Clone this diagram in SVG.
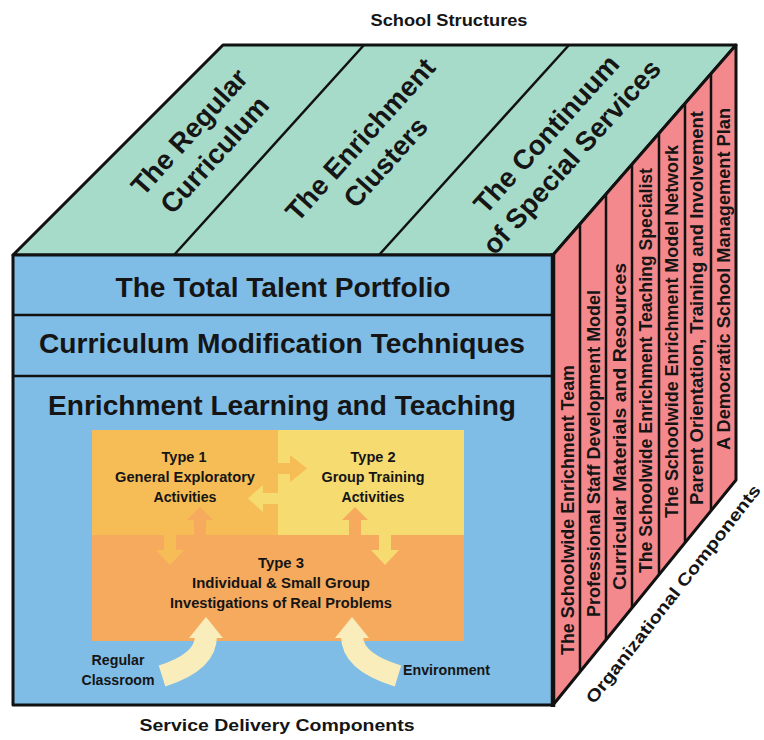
<svg xmlns="http://www.w3.org/2000/svg" width="764" height="740" viewBox="0 0 764 740">
<style>
text{font-family:"Liberation Sans",Arial,sans-serif;font-weight:bold;fill:#151515}
.edge{stroke:#111;stroke-width:3;stroke-linejoin:round;fill:none}
.div{stroke:#111;stroke-width:2.5}
.top{fill:#A6DBCA}
.front{fill:#7FBCE6}
.pink{fill:#F4898D}
.t1{fill:#F6BD56}
.t2{fill:#F5DB70}
.t3{fill:#F6AA5E}
.cream{fill:#F8EDBB}
.big{font-size:27.5px}
.row{font-size:27px}
.strip{font-size:18.5px}
.small{font-size:14.5px}
.lbl{font-size:17px}
</style>
<rect width="764" height="740" fill="#fff"/>
<text id="school-structures" class="lbl" x="449" y="26" text-anchor="middle" textLength="157" lengthAdjust="spacingAndGlyphs">School Structures</text>

<!-- top face -->
<g id="top-face">
<polygon class="top" points="13,255 223,45 736,45 553,255"/>
<line class="div" x1="174" y1="255" x2="364" y2="45"/>
<line class="div" x1="379" y1="255" x2="569" y2="45"/>
<polygon class="edge" points="13,255 223,45 736,45 553,255"/>
</g>
<g id="regular-curriculum" transform="translate(201.5,143) rotate(-48)">
<text class="big" text-anchor="middle" y="-7">The Regular</text>
<text class="big" text-anchor="middle" y="27">Curriculum</text>
</g>
<g id="enrichment-clusters" transform="translate(372.5,150.5) rotate(-48)">
<text class="big" text-anchor="middle" y="-7">The Enrichment</text>
<text class="big" text-anchor="middle" y="27">Clusters</text>
</g>
<g id="continuum" transform="translate(558.5,145) rotate(-48)">
<text class="big" text-anchor="middle" y="-7">The Continuum</text>
<text class="big" text-anchor="middle" y="27">of Special Services</text>
</g>

<!-- right face -->
<g id="right-face">
<polygon class="pink" points="553,255 736,45 736,480 553,705"/>
<line class="div" x1="580" y1="224" x2="580" y2="671.8"/>
<line class="div" x1="606" y1="194.2" x2="606" y2="639.8"/>
<line class="div" x1="632" y1="164.3" x2="632" y2="607.9"/>
<line class="div" x1="659" y1="133.4" x2="659" y2="574.7"/>
<line class="div" x1="685" y1="103.5" x2="685" y2="542.7"/>
<line class="div" x1="711" y1="73.7" x2="711" y2="510.7"/>
<polygon class="edge" points="553,255 736,45 736,480 553,705"/>
</g>
<g id="org-1"><text class="strip" transform="translate(573.5,510) rotate(-90)" text-anchor="middle" textLength="290" lengthAdjust="spacingAndGlyphs">The Schoolwide Enrichment Team</text></g>
<g id="org-2"><text class="strip" transform="translate(600,453.5) rotate(-90)" text-anchor="middle" textLength="327" lengthAdjust="spacingAndGlyphs">Professional Staff Development Model</text></g>
<g id="org-3"><text class="strip" transform="translate(625.5,426.5) rotate(-90)" text-anchor="middle" textLength="327" lengthAdjust="spacingAndGlyphs">Curricular Materials and Resources</text></g>
<g id="org-4"><text class="strip" transform="translate(652,370.5) rotate(-90)" text-anchor="middle" textLength="405" lengthAdjust="spacingAndGlyphs">The Schoolwide Enrichment Teaching Specialist</text></g>
<g id="org-5"><text class="strip" transform="translate(677.5,331.5) rotate(-90)" text-anchor="middle" textLength="373" lengthAdjust="spacingAndGlyphs">The Schoolwide Enrichment Model Network</text></g>
<g id="org-6"><text class="strip" transform="translate(703,308) rotate(-90)" text-anchor="middle" textLength="394" lengthAdjust="spacingAndGlyphs">Parent Orientation, Training and Involvement</text></g>
<g id="org-7"><text class="strip" transform="translate(730,279) rotate(-90)" text-anchor="middle" textLength="342" lengthAdjust="spacingAndGlyphs">A Democratic School Management Plan</text></g>

<!-- front face -->
<g id="front-face">
<rect class="front" x="13" y="255" width="540" height="450"/>
<line class="div" x1="13" y1="315" x2="553" y2="315"/>
<line class="div" x1="13" y1="376" x2="553" y2="376"/>
</g>
<g id="total-talent-portfolio"><text class="row" x="283" y="297" text-anchor="middle" textLength="335" lengthAdjust="spacingAndGlyphs">The Total Talent Portfolio</text></g>
<g id="curriculum-modification"><text class="row" x="282" y="353" text-anchor="middle" textLength="486" lengthAdjust="spacingAndGlyphs">Curriculum Modification Techniques</text></g>
<g id="enrichment-learning"><text class="row" x="282" y="415" text-anchor="middle" textLength="468" lengthAdjust="spacingAndGlyphs">Enrichment Learning and Teaching</text></g>

<g id="type1">
<rect class="t1" x="92" y="430" width="186" height="105"/>
<text class="small" x="184" y="462" text-anchor="middle" textLength="45" lengthAdjust="spacingAndGlyphs">Type 1</text>
<text class="small" x="185" y="482" text-anchor="middle" textLength="140" lengthAdjust="spacingAndGlyphs">General Exploratory</text>
<text class="small" x="185" y="502" text-anchor="middle" textLength="63" lengthAdjust="spacingAndGlyphs">Activities</text>
</g>
<g id="type2">
<rect class="t2" x="278" y="430" width="186" height="105"/>
<text class="small" x="373" y="462" text-anchor="middle" textLength="45" lengthAdjust="spacingAndGlyphs">Type 2</text>
<text class="small" x="373" y="482" text-anchor="middle" textLength="103" lengthAdjust="spacingAndGlyphs">Group Training</text>
<text class="small" x="373" y="502" text-anchor="middle" textLength="63" lengthAdjust="spacingAndGlyphs">Activities</text>
</g>
<g id="type3">
<rect class="t3" x="92" y="535" width="372" height="106"/>
<text class="small" x="281" y="568" text-anchor="middle" textLength="46" lengthAdjust="spacingAndGlyphs">Type 3</text>
<text class="small" x="281" y="588" text-anchor="middle" textLength="178" lengthAdjust="spacingAndGlyphs">Individual &amp; Small Group</text>
<text class="small" x="281" y="608" text-anchor="middle" textLength="222" lengthAdjust="spacingAndGlyphs">Investigations of Real Problems</text>
</g>

<g id="connectors">
<polygon class="t1" points="268,463 290,463 290,455 307,468.5 290,482 290,474 268,474"/>
<polygon class="t2" points="282,493 263,493 263,485 248,498.5 263,512 263,504 282,504"/>
<polygon class="t3" points="194,540 194,520 187,520 200,507 213,520 206,520 206,540"/>
<polygon class="t1" points="164,530 176,530 176,550 184,550 170,565 156,550 164,550"/>
<polygon class="t3" points="349,540 349,520 342,520 355,507 368,520 361,520 361,540"/>
<polygon class="t2" points="379,530 391,530 391,550 399,550 385,565 371,550 379,550"/>
<path d="M162 676 Q206 662 206 636" stroke="#F8EDBB" stroke-width="22" fill="none"/>
<polygon class="cream" points="189,638 223,638 206,617"/>
<path d="M398 676 Q352 662 352 636" stroke="#F8EDBB" stroke-width="22" fill="none"/>
<polygon class="cream" points="335,638 369,638 352,617"/>
</g>

<g id="regular-classroom">
<text class="small" x="118" y="665" text-anchor="middle" textLength="53" lengthAdjust="spacingAndGlyphs">Regular</text>
<text class="small" x="118" y="685" text-anchor="middle" textLength="73" lengthAdjust="spacingAndGlyphs">Classroom</text>
</g>
<g id="environment"><text class="small" x="403" y="675" textLength="87" lengthAdjust="spacingAndGlyphs">Environment</text></g>

<rect class="edge" x="13" y="255" width="540" height="450"/>
<line x1="553" y1="253" x2="553" y2="707" stroke="#111" stroke-width="4.5"/>

<text id="service-delivery" class="lbl" x="277" y="731" text-anchor="middle" textLength="275" lengthAdjust="spacingAndGlyphs">Service Delivery Components</text>
<text id="organizational" class="lbl" transform="translate(673,594) rotate(-52)" y="6" text-anchor="middle" textLength="272" lengthAdjust="spacingAndGlyphs">Organizational Components</text>
</svg>
